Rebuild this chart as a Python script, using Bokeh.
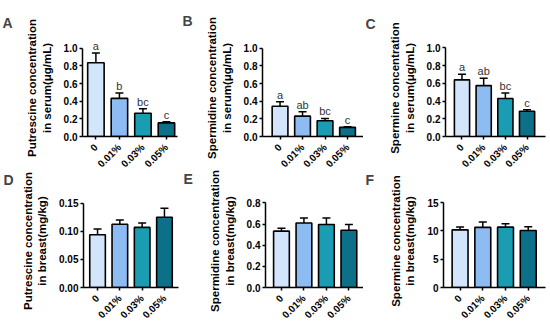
import math
from bokeh.plotting import figure
from bokeh.layouts import row, column
from bokeh.models import (FixedTicker, NumeralTickFormatter, Whisker, TeeHead,
                          ColumnDataSource, Range1d)
from bokeh.embed import file_html
from bokeh.resources import INLINE
from bokeh.core.properties import value

# ---------------- data ----------------
groups = ["0", "0.01%", "0.03%", "0.05%"]
bar_colors = ["#d3e5fa", "#8dbcf3", "#1a9cb3", "#0b7088"]

a_mean = [0.835, 0.432, 0.264, 0.154]
a_err = [0.110, 0.060, 0.050, 0.014]
a_sig = ["a", "b", "bc", "c"]

b_mean = [0.343, 0.231, 0.179, 0.104]
b_err = [0.052, 0.049, 0.026, 0.007]
b_sig = ["a", "ab", "bc", "c"]

c_mean = [0.640, 0.575, 0.430, 0.286]
c_err = [0.062, 0.082, 0.060, 0.016]
c_sig = ["a", "ab", "bc", "c"]

d_mean = [0.094, 0.1125, 0.107, 0.125]
d_err = [0.010, 0.0075, 0.008, 0.016]

e_mean = [0.533, 0.610, 0.596, 0.542]
e_err = [0.027, 0.048, 0.062, 0.054]

f_mean = [10.20, 10.63, 10.68, 10.09]
f_err = [0.50, 0.97, 0.60, 0.65]

serum_ticks = [0.0, 0.2, 0.4, 0.6, 0.8, 1.0]
put_breast_ticks = [0.0, 0.05, 0.10, 0.15]
spd_breast_ticks = [0.0, 0.2, 0.4, 0.6, 0.8]
spm_breast_ticks = [0, 5, 10, 15]

FONT = "Liberation Sans"
HEADROOM = 9  # px of frame above the top tick (room for letters)


def make_panel(letter, ylabel, means, errs, sig, yticks, fmt, geom, border_fill):
    (fw, fh, left, right, tick_top_px, zero_px, x0, x1, toff, letter_base) = geom
    frame_top = tick_top_px - HEADROOM
    tick_span = zero_px - tick_top_px
    frame_h = zero_px - frame_top
    y_end = yticks[0] + (yticks[-1] - yticks[0]) * frame_h / tick_span
    xs = list(range(len(groups)))
    p = figure(width=fw, height=fh, output_backend="svg", toolbar_location=None,
               min_border_left=left, min_border_right=right,
               min_border_top=frame_top, min_border_bottom=fh - zero_px,
               x_range=Range1d(x0, x1), y_range=Range1d(yticks[0], y_end))
    p.outline_line_color = None
    p.xgrid.visible = False
    p.ygrid.visible = False
    p.background_fill_color = "white"
    p.border_fill_color = border_fill

    uppers = [m + e for m, e in zip(means, errs)]
    src = ColumnDataSource(dict(x=xs, top=means, upper=uppers, color=bar_colors,
                                label=sig if sig else [""] * len(xs)))
    p.add_layout(Whisker(source=src, base="x", lower="top", upper="upper",
                         dimension="height", line_color="black", line_width=1.5,
                         lower_head=None,
                         upper_head=TeeHead(size=8, line_color="black", line_width=1.5),
                         level="glyph"))
    p.vbar(x="x", top="top", bottom=0, width=0.7, source=src, fill_color="color",
           line_color="black", line_width=1.6)
    if sig:
        p.text(x="x", y="upper", text="label", source=src, text_align="center",
               text_baseline="bottom", y_offset=-1, text_font=value(FONT),
               text_font_size="11px", text_color="#333333")

    # axes
    for ax in (p.xaxis[0], p.yaxis[0]):
        ax.axis_line_width = 1.5
        ax.axis_line_color = "black"
        ax.major_tick_line_width = 1.5
        ax.major_tick_line_color = "black"
        ax.major_tick_in = 0
        ax.major_tick_out = 3
        ax.minor_tick_line_color = None
        ax.major_label_text_font = FONT
        ax.major_label_text_font_style = "bold"
        ax.major_label_text_color = "black"

    p.yaxis.major_label_text_font_size = "10px"
    p.yaxis.major_label_standoff = 2
    p.xaxis.major_label_text_font_size = "10px"
    p.xaxis.major_label_standoff = 6

    p.yaxis.ticker = FixedTicker(ticks=yticks)
    p.yaxis.bounds = (yticks[0], yticks[-1])
    p.yaxis.formatter = NumeralTickFormatter(format=fmt)
    p.yaxis.axis_label = ylabel
    p.yaxis.axis_label_text_font = FONT
    p.yaxis.axis_label_text_font_style = "bold"
    p.yaxis.axis_label_text_font_size = "11.5px"
    p.yaxis.axis_label_text_color = "black"
    p.yaxis.axis_label_standoff = 8

    p.xaxis.ticker = FixedTicker(ticks=xs)
    p.xaxis.major_label_overrides = {i: g for i, g in enumerate(groups)}
    p.xaxis.major_label_orientation = math.pi / 4

    p.title.text = letter
    p.title.text_font = FONT
    p.title.text_font_style = "bold"
    p.title.text_font_size = "14px"
    p.title.align = "left"
    p.title.offset = toff
    p.title.standoff = max(0, frame_top - letter_base + 5)
    return p


# geometry: fig_w, fig_h, left, right, top_tick_px, zero_px, x_start, x_end,
#           title_offset, letter_baseline_px  (pixels relative to each figure)
pA = make_panel("A", "Putrescine concentration\nin serum(μg/mL)", a_mean, a_err, a_sig,
                serum_ticks, "0.0", (180, 180, 82, 3, 45, 136, -0.57, 3.47, -80, 23), "white")
pB = make_panel("B", "Spermidine concentration\nin serum(μg/mL)", b_mean, b_err, b_sig,
                serum_ticks, "0.0", (183, 180, 82, 0, 47, 137, -0.78, 3.71, -80, 22), "white")
pC = make_panel("C", "Spermine concentration\nin serum(μg/mL)", c_mean, c_err, c_sig,
                serum_ticks, "0.0", (187, 180, 82, 5, 42, 136, -0.76, 3.85, -80, 22), "white")
pD = make_panel("D", "Putrescine concentration\nin breast(mg/kg)", d_mean, d_err, None,
                put_breast_ticks, "0.00", (180, 167, 83, 2, 40, 127, -0.63, 3.63, -80, 23), None)
pE = make_panel("E", "Spermidine concentration\nin breast(mg/kg)", e_mean, e_err, None,
                spd_breast_ticks, "0.0", (183, 167, 85, 0, 42, 132, -0.71, 3.65, -82, 22), None)
pF = make_panel("F", "Spermine concentration\nin breast(mg/kg)", f_mean, f_err, None,
                spm_breast_ticks, "0", (187, 167, 80, 5, 39, 132, -0.73, 3.76, -78, 22), None)

top_row = row(pA, pB, pC)
bottom_row = row(pD, pE, pF, margin=(-20, 0, 0, 0))
layout = column(top_row, bottom_row)

open("out.html", "w").write(file_html(layout, INLINE))
